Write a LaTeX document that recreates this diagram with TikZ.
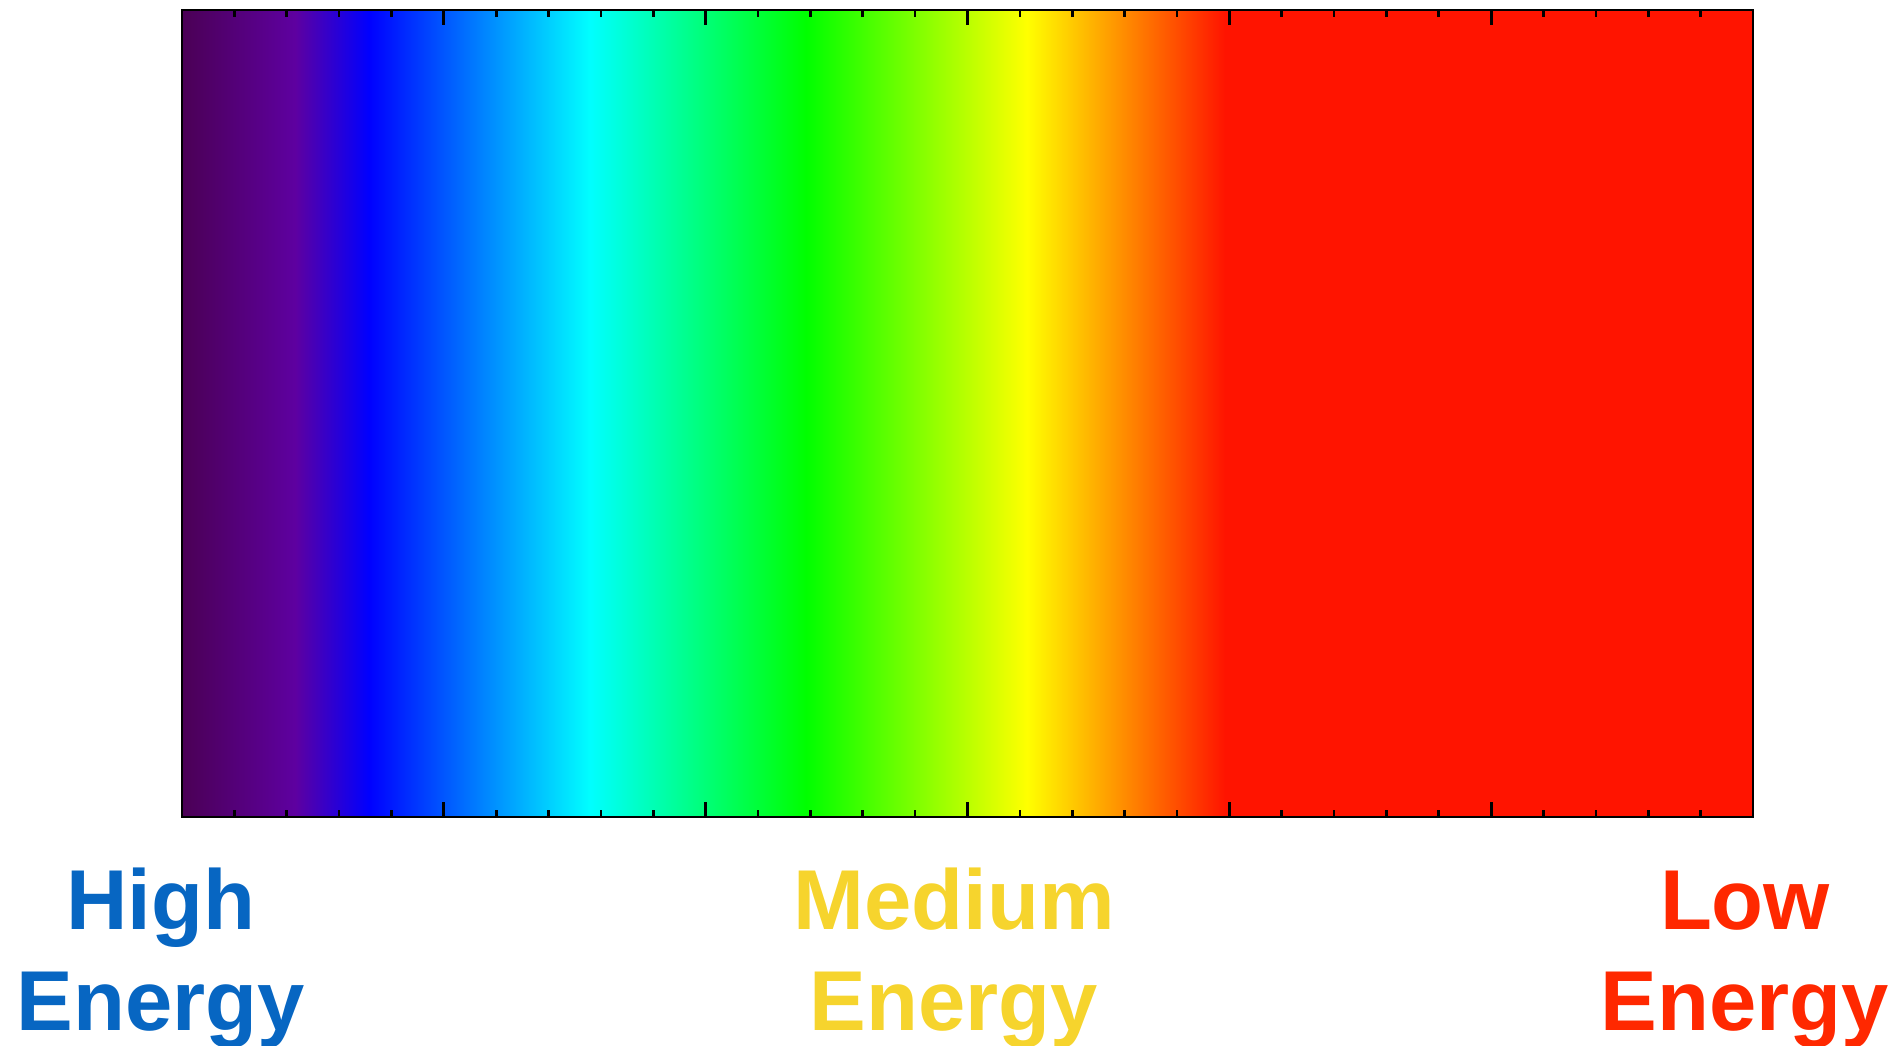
\documentclass[tikz,border=0pt]{standalone}
\usepackage{fontspec}
\setmainfont{Liberation Sans}
\usetikzlibrary{positioning,calc}

\definecolor{specA}{RGB}{75,0,85}
\definecolor{specB}{RGB}{94,0,160}
\definecolor{specC}{RGB}{0,0,255}
\definecolor{specD}{RGB}{0,255,255}
\definecolor{specE}{RGB}{0,255,0}
\definecolor{specF}{RGB}{255,255,0}
\definecolor{specG}{RGB}{255,20,0}
\definecolor{hiblue}{RGB}{7,102,194}
\definecolor{medyellow}{RGB}{246,212,45}
\definecolor{lowred}{RGB}{255,40,0}

% box maps onto 25bp..75bp of the shading
\pgfdeclarehorizontalshading{spectrum}{100bp}{color(0bp)=(specA); color(25bp)=(specA); color(28.6bp)=(specB); color(30.95bp)=(specC); color(37.99bp)=(specD); color(44.86bp)=(specE); color(51.89bp)=(specF); color(58.2bp)=(specG); color(75bp)=(specG); color(100bp)=(specG)}

\tikzset{
  energy/.style={font=\fontsize{42.5}{50.4}\selectfont\bfseries, align=center, anchor=base, inner sep=0pt},
  tick/.style={line width=1.35pt}
}

\begin{document}
\begin{tikzpicture}[x=0.5pt,y=-0.5pt]
    \useasboundingbox (0,0) rectangle (1894,1045);
    \pgfmathsetmacro{\w}{1571/30}	%minor tick step

    \coordinate (A) at (182,10);
    \coordinate (B) at (1753,817);

    \shade[shading=spectrum] (A) rectangle (B);

    \foreach \i in {1,...,29}{
        \pgfmathsetmacro{\len}{ifthenelse(mod(\i,5)==0,15,7)}
        \draw[tick] ($(A)+(\i*\w,0)$) --++(0,\len);
        \draw[tick] ($(A|-B)+(\i*\w,0)$) --++(0,-\len);
    }
    \draw[line width=1.4pt] (A) rectangle (B);

    % base anchor sits on the second line
    \node[energy, text=hiblue] (high) at (161,1030) {High\\Energy};
    \node[energy, text=medyellow] (medium) at (954,1030) {Medium\\Energy};
    \node[energy, text=lowred] (low) at (1745,1030) {Low\\Energy};
\end{tikzpicture}
\end{document}
